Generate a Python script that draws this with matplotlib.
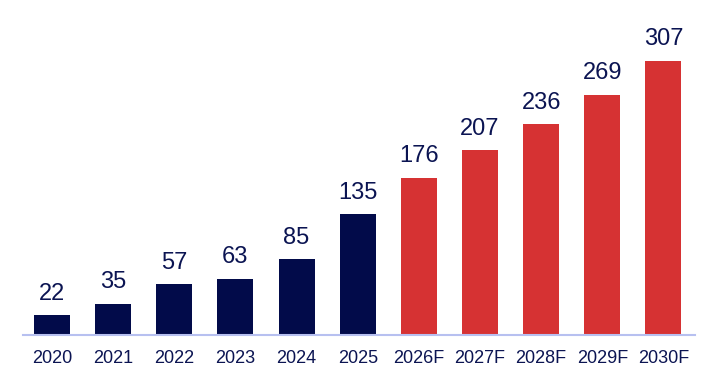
import matplotlib
matplotlib.use("Agg")
import matplotlib.pyplot as plt

years = ["2020", "2021", "2022", "2023", "2024", "2025",
         "2026F", "2027F", "2028F", "2029F", "2030F"]
values = [22, 35, 57, 63, 85, 135, 176, 207, 236, 269, 307]
forecast = [False] * 6 + [True] * 5

navy = "#020B4A"
red = "#D63233"
text_col = "#0B1452"

plt.rcParams["font.family"] = ["Liberation Sans", "DejaVu Sans"]

fig = plt.figure(figsize=(7.16, 3.81), dpi=100)
ax = fig.add_axes([0.032, 1 - 335 / 381, 0.939, 335 / 381])

colors = [red if f else navy for f in forecast]
x = range(len(years))
bars = ax.bar(x, values, width=0.59, color=colors)

for b, v in zip(bars, values):
    ax.annotate(str(v), (b.get_x() + b.get_width() / 2, b.get_height()),
                xytext=(0, 7.5), textcoords="offset points",
                ha="center", va="bottom", fontsize=17, color=text_col)

ax.set_xlim(-0.475, 10.52)
ax.set_ylim(0, 375)
ax.set_xticks(list(x))
ax.set_xticklabels(years, fontsize=13, color=text_col)
ax.tick_params(axis="x", length=0, pad=11)
ax.set_yticks([])
for s in ["top", "right", "left"]:
    ax.spines[s].set_visible(False)
ax.spines["bottom"].set_color("#B7C0F0")
ax.spines["bottom"].set_linewidth(1.5)

fig.savefig("out.png", dpi=100)
